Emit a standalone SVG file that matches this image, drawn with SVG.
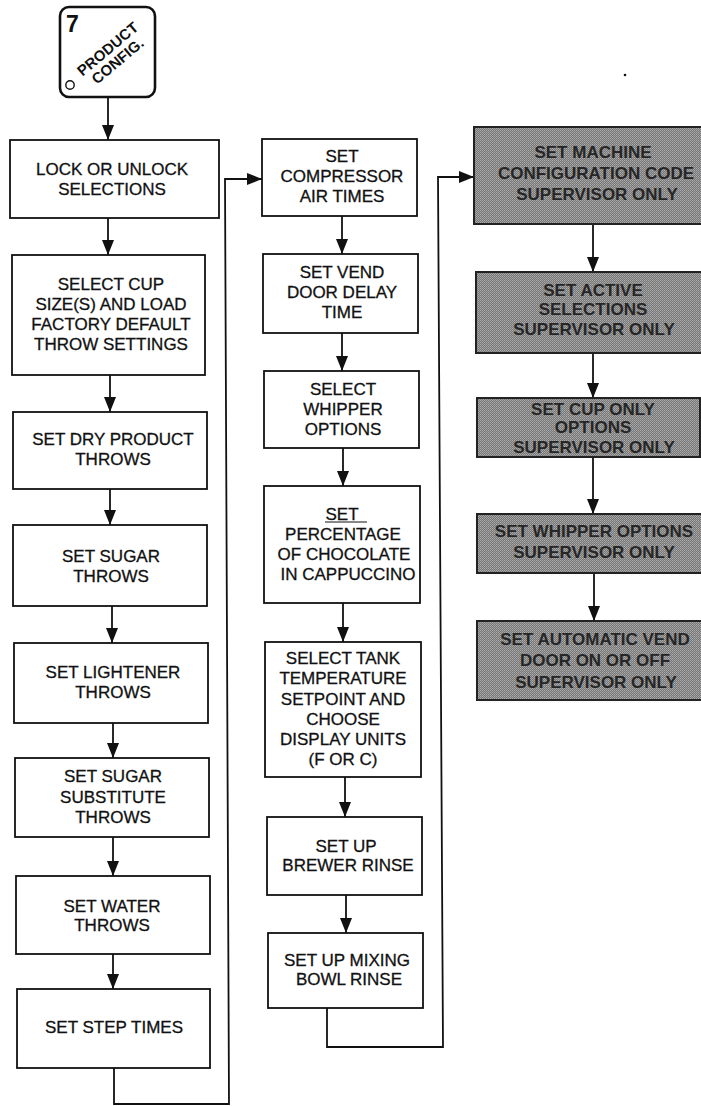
<svg xmlns="http://www.w3.org/2000/svg" width="701" height="1106" viewBox="0 0 701 1106">
<style>
.bx{fill:#fff;stroke:#111;stroke-width:1.8}
.gb{fill:url(#ht);stroke:#222;stroke-width:2}
.t{font-family:"Liberation Sans",Arial,Helvetica,sans-serif;font-size:17px;text-anchor:middle;fill:#111;stroke:#111;stroke-width:0.3}
.g{font-family:"Liberation Sans",Arial,Helvetica,sans-serif;font-size:17px;font-weight:bold;text-anchor:middle;fill:#262626}
.ic{font-family:"Liberation Sans",Arial,Helvetica,sans-serif;font-size:15px;font-weight:bold;text-anchor:middle;fill:#111}
.c{fill:none;stroke:#111;stroke-width:1.8}
</style>
<defs>
<pattern id="ht" width="2" height="2" patternUnits="userSpaceOnUse">
<rect width="2" height="2" fill="#767676"/>
<rect width="1" height="1" fill="#adadad"/>
<rect x="1" y="1" width="1" height="1" fill="#9c9c9c"/>
</pattern>
<marker id="ah" markerUnits="userSpaceOnUse" markerWidth="16" markerHeight="12" refX="15" refY="6" orient="auto">
<path d="M0,0 L15,6 L0,12 z" fill="#111"/>
</marker>
</defs>
<rect width="701" height="1106" fill="#fff"/>

<g id="icon">
<rect x="60" y="7" width="95" height="90" rx="9" fill="#fff" stroke="#111" stroke-width="2.6"/>
<text x="66" y="32" font-family="Liberation Sans,Arial,sans-serif" font-size="23" font-weight="bold" fill="#111">7</text>
<text class="ic" transform="translate(111,53) rotate(-40)">PRODUCT</text>
<text class="ic" transform="translate(121,65) rotate(-40)">CONFIG.</text>
<circle cx="70" cy="85" r="4.2" fill="none" stroke="#111" stroke-width="1.4"/>
</g>

<g id="connectors">
<path class="c" d="M108,97 V140" marker-end="url(#ah)"/>
<path class="c" d="M108,218 V255" marker-end="url(#ah)"/>
<path class="c" d="M110,375 V412" marker-end="url(#ah)"/>
<path class="c" d="M110,489 V525" marker-end="url(#ah)"/>
<path class="c" d="M112,606 V643" marker-end="url(#ah)"/>
<path class="c" d="M113,723 V758" marker-end="url(#ah)"/>
<path class="c" d="M113,837 V876" marker-end="url(#ah)"/>
<path class="c" d="M113,954 V989" marker-end="url(#ah)"/>
<path class="c" d="M114,1068 V1104 H229 L225,179 H262" marker-end="url(#ah)"/>
<path class="c" d="M342,216 V254" marker-end="url(#ah)"/>
<path class="c" d="M342,333 V371" marker-end="url(#ah)"/>
<path class="c" d="M343,448 V486" marker-end="url(#ah)"/>
<path class="c" d="M343,603 V642" marker-end="url(#ah)"/>
<path class="c" d="M345,777 V817" marker-end="url(#ah)"/>
<path class="c" d="M346,895 V933" marker-end="url(#ah)"/>
<path class="c" d="M327,1008 V1047 H443 L438,177 H474" marker-end="url(#ah)"/>
<path class="c" d="M593,224 V272" marker-end="url(#ah)"/>
<path class="c" d="M593,353 V398" marker-end="url(#ah)"/>
<path class="c" d="M593,457 V514" marker-end="url(#ah)"/>
<path class="c" d="M594,573 V621" marker-end="url(#ah)"/>
</g>

<g id="n1"><rect class="bx" x="10" y="140" width="209" height="78"/>
<text class="t" x="112" y="175">LOCK OR UNLOCK</text><text class="t" x="112" y="195">SELECTIONS</text></g>
<g id="n2"><rect class="bx" x="12" y="255" width="193" height="120"/>
<text class="t" x="111" y="290">SELECT CUP</text><text class="t" x="111" y="310">SIZE(S) AND LOAD</text><text class="t" x="111" y="330">FACTORY DEFAULT</text><text class="t" x="111" y="350">THROW SETTINGS</text></g>
<g id="n3"><rect class="bx" x="13" y="412" width="194" height="77"/>
<text class="t" x="113" y="445">SET DRY PRODUCT</text><text class="t" x="113" y="465">THROWS</text></g>
<g id="n4"><rect class="bx" x="13" y="525" width="194" height="81"/>
<text class="t" x="111" y="562">SET SUGAR</text><text class="t" x="111" y="582">THROWS</text></g>
<g id="n5"><rect class="bx" x="14" y="643" width="194" height="80"/>
<text class="t" x="113" y="678">SET LIGHTENER</text><text class="t" x="113" y="698">THROWS</text></g>
<g id="n6"><rect class="bx" x="15" y="758" width="194" height="79"/>
<text class="t" x="113" y="782">SET SUGAR</text><text class="t" x="113" y="803">SUBSTITUTE</text><text class="t" x="113" y="823">THROWS</text></g>
<g id="n7"><rect class="bx" x="16" y="876" width="194" height="78"/>
<text class="t" x="112" y="912">SET WATER</text><text class="t" x="112" y="931">THROWS</text></g>
<g id="n8"><rect class="bx" x="17" y="989" width="193" height="79"/>
<text class="t" x="114" y="1033">SET STEP TIMES</text></g>

<g id="n9"><rect class="bx" x="262" y="139" width="155" height="77"/>
<text class="t" x="342" y="162">SET</text><text class="t" x="342" y="182">COMPRESSOR</text><text class="t" x="342" y="202">AIR TIMES</text></g>
<g id="n10"><rect class="bx" x="263" y="254" width="155" height="79"/>
<text class="t" x="342" y="278">SET VEND</text><text class="t" x="342" y="298">DOOR DELAY</text><text class="t" x="342" y="318">TIME</text></g>
<g id="n11"><rect class="bx" x="264" y="371" width="155" height="77"/>
<text class="t" x="343" y="395">SELECT</text><text class="t" x="343" y="415">WHIPPER</text><text class="t" x="343" y="435">OPTIONS</text></g>
<g id="n12"><rect class="bx" x="264" y="486" width="156" height="117"/>
<text class="t" x="342" y="520">SET</text><line x1="325" y1="522" x2="367" y2="522" stroke="#111" stroke-width="1"/>
<text class="t" x="343" y="540">PERCENTAGE</text><text class="t" x="344" y="560">OF CHOCOLATE</text><text class="t" x="348" y="580">IN CAPPUCCINO</text></g>
<g id="n13"><rect class="bx" x="265" y="642" width="156" height="135"/>
<text class="t" x="343" y="664">SELECT TANK</text><text class="t" x="343" y="684">TEMPERATURE</text><text class="t" x="343" y="705">SETPOINT AND</text><text class="t" x="343" y="725">CHOOSE</text><text class="t" x="343" y="745">DISPLAY UNITS</text><text class="t" x="343" y="765">(F OR C)</text></g>
<g id="n14"><rect class="bx" x="267" y="817" width="155" height="78"/>
<text class="t" x="346" y="852">SET UP</text><text class="t" x="348" y="871">BREWER RINSE</text></g>
<g id="n15"><rect class="bx" x="268" y="933" width="155" height="75"/>
<text class="t" x="347" y="966">SET UP MIXING</text><text class="t" x="349" y="985">BOWL RINSE</text></g>

<g id="n16"><rect class="gb" x="474" y="127" width="230" height="97"/>
<text class="g" x="593" y="158">SET MACHINE</text><text class="g" x="596" y="179">CONFIGURATION CODE</text><text class="g" x="597" y="200">SUPERVISOR ONLY</text></g>
<g id="n17"><rect class="gb" x="476" y="272" width="228" height="81"/>
<text class="g" x="593" y="296">SET ACTIVE</text><text class="g" x="593" y="315">SELECTIONS</text><text class="g" x="594" y="335">SUPERVISOR ONLY</text></g>
<g id="n18"><rect class="gb" x="477" y="398" width="223" height="59"/>
<text class="g" x="593" y="415">SET CUP ONLY</text><text class="g" x="593" y="433">OPTIONS</text><text class="g" x="594" y="453">SUPERVISOR ONLY</text></g>
<g id="n19"><rect class="gb" x="477" y="514" width="227" height="59"/>
<text class="g" x="594" y="537">SET WHIPPER OPTIONS</text><text class="g" x="594" y="558">SUPERVISOR ONLY</text></g>
<g id="n20"><rect class="gb" x="477" y="621" width="227" height="79"/>
<text class="g" x="595" y="645">SET AUTOMATIC VEND</text><text class="g" x="595" y="666">DOOR ON OR OFF</text><text class="g" x="596" y="688">SUPERVISOR ONLY</text></g>

<circle cx="625" cy="75" r="1.3" fill="#111"/>
</svg>
